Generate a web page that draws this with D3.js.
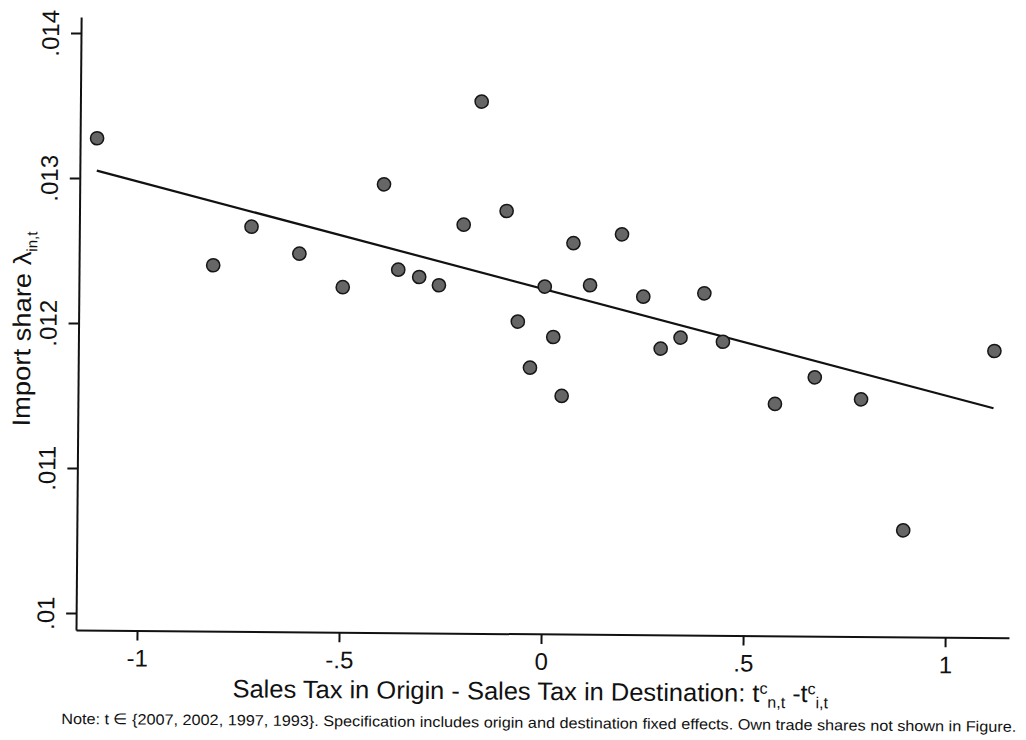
<!DOCTYPE html>
<html lang="en">
<head>
<meta charset="UTF-8">
<title>Import share vs sales tax difference</title>
<script src="https://d3js.org/d3.v7.min.js"></script>
<style>
    body, html {
        margin: 0;
        background: #fff;
    }
    svg text {
        font-family: "Liberation Sans", Arial, Helvetica, sans-serif;
        fill: #111;
    }
</style>
</head>
<body>
<svg width="1026" height="740"></svg>
<script>
    // binned scatter points
    const taxDiff = [-1.109, -0.819, -0.725, -0.606, -0.498, -0.398, -0.361, -0.309, -0.260, -0.200,
                     -0.158, -0.094, -0.064, -0.033, 0.002, 0.024, 0.046, 0.072, 0.114, 0.192,
                     0.246, 0.290, 0.339, 0.397, 0.444, 0.574, 0.672, 0.787, 0.894, 1.116];
    const importShare = [0.013275, 0.012406, 0.012674, 0.012491, 0.012262, 0.012974, 0.012386, 0.012337, 0.012281, 0.012700,
                         0.013550, 0.012797, 0.012035, 0.011718, 0.012278, 0.011931, 0.011525, 0.012579, 0.012290, 0.012643,
                         0.012214, 0.011857, 0.011934, 0.012241, 0.011908, 0.011482, 0.011668, 0.011519, 0.010618, 0.011860];

    // fitted line end points
    const fitX = [-1.109, 1.115];
    const fitY = [0.013052, 0.011465];

    const xTicks = [-1, -0.5, 0, 0.5, 1];
    const xTickLabels = ["-1", "-.5", "0", ".5", "1"];
    const yTicks = [0.010, 0.011, 0.012, 0.013, 0.014];
    const yTickLabels = [".01", ".011", ".012", ".013", ".014"];

    const svg = d3.select("svg");

    // the scanned figure is a little tilted, so the whole plot is turned slightly
    const g = svg.append("g")
        .attr("transform", "translate(76,630) rotate(0.48)");

    const x = d3.scaleLinear().domain([-1.151, 1.158]).range([0, 933]);
    const y = d3.scaleLinear().domain([0.009883, 0.01411]).range([0, -613]);

    // x axis
    const xAxis = g.append("g")
        .call(d3.axisBottom(x).tickValues(xTicks).tickFormat((d, i) => xTickLabels[i])
              .tickSize(10).tickSizeOuter(0));
    xAxis.select(".domain").attr("stroke-width", 2);
    xAxis.selectAll(".tick line").attr("stroke-width", 2);
    xAxis.selectAll(".tick text")
        .attr("y", 36).attr("dy", 0)
        .style("font-size", "24px");

    // y axis
    const yAxis = g.append("g")
        .call(d3.axisLeft(y).tickValues(yTicks).tickFormat((d, i) => yTickLabels[i])
              .tickSize(10).tickSizeOuter(0));
    yAxis.select(".domain").attr("stroke-width", 2);
    yAxis.selectAll(".tick line").attr("stroke-width", 2);
    yAxis.selectAll(".tick text")
        .attr("transform", "rotate(-90)")
        .attr("x", 0).attr("y", -22).attr("dy", 0)
        .attr("text-anchor", "middle")
        .style("font-size", "24px");
    svg.selectAll(".domain, .tick line").attr("stroke", "#111");

    // fitted line
    g.append("path")
        .datum(d3.zip(fitX, fitY))
        .attr("d", d3.line().x(d => x(d[0])).y(d => y(d[1])))
        .attr("fill", "none")
        .attr("stroke", "#111")
        .attr("stroke-width", 2.2);

    // points
    g.selectAll("circle")
        .data(d3.zip(taxDiff, importShare))
        .enter().append("circle")
        .attr("cx", d => x(d[0]))
        .attr("cy", d => y(d[1]))
        .attr("r", 6.6)
        .attr("fill", "#666")
        .attr("stroke", "#161616")
        .attr("stroke-width", 1.5);

    // y title
    const yTitle = g.append("text")
        .attr("transform", "translate(-48,-203) rotate(-90)")
        .style("font-size", "25px");
    yTitle.append("tspan").attr("textLength", 175).attr("lengthAdjust", "spacingAndGlyphs")
        .text("Import share  λ");
    yTitle.append("tspan").attr("dy", 6).style("font-size", "15px").text("in,t");

    // x title
    const xTitle = g.append("text")
        .attr("x", 157).attr("y", 66)
        .style("font-size", "25px");
    xTitle.append("tspan").attr("textLength", 527).attr("lengthAdjust", "spacingAndGlyphs")
        .text("Sales Tax in Origin - Sales Tax in Destination: t");
    xTitle.append("tspan").attr("dy", -8).style("font-size", "16px").text("c");
    xTitle.append("tspan").attr("dy", 14).style("font-size", "16px").text("n,t");
    xTitle.append("tspan").attr("dy", -6).text(" -t");
    xTitle.append("tspan").attr("dy", -8).style("font-size", "16px").text("c");
    xTitle.append("tspan").attr("dy", 14).style("font-size", "16px").text("i,t");

    // note
    g.append("text")
        .attr("x", -14).attr("y", 94)
        .attr("textLength", 955)
        .attr("lengthAdjust", "spacingAndGlyphs")
        .style("font-size", "15px")
        .text("Note: t \u2208 {2007, 2002, 1997, 1993}. Specification includes origin and destination fixed effects. Own trade shares not shown in Figure.");
</script>
</body>
</html>
